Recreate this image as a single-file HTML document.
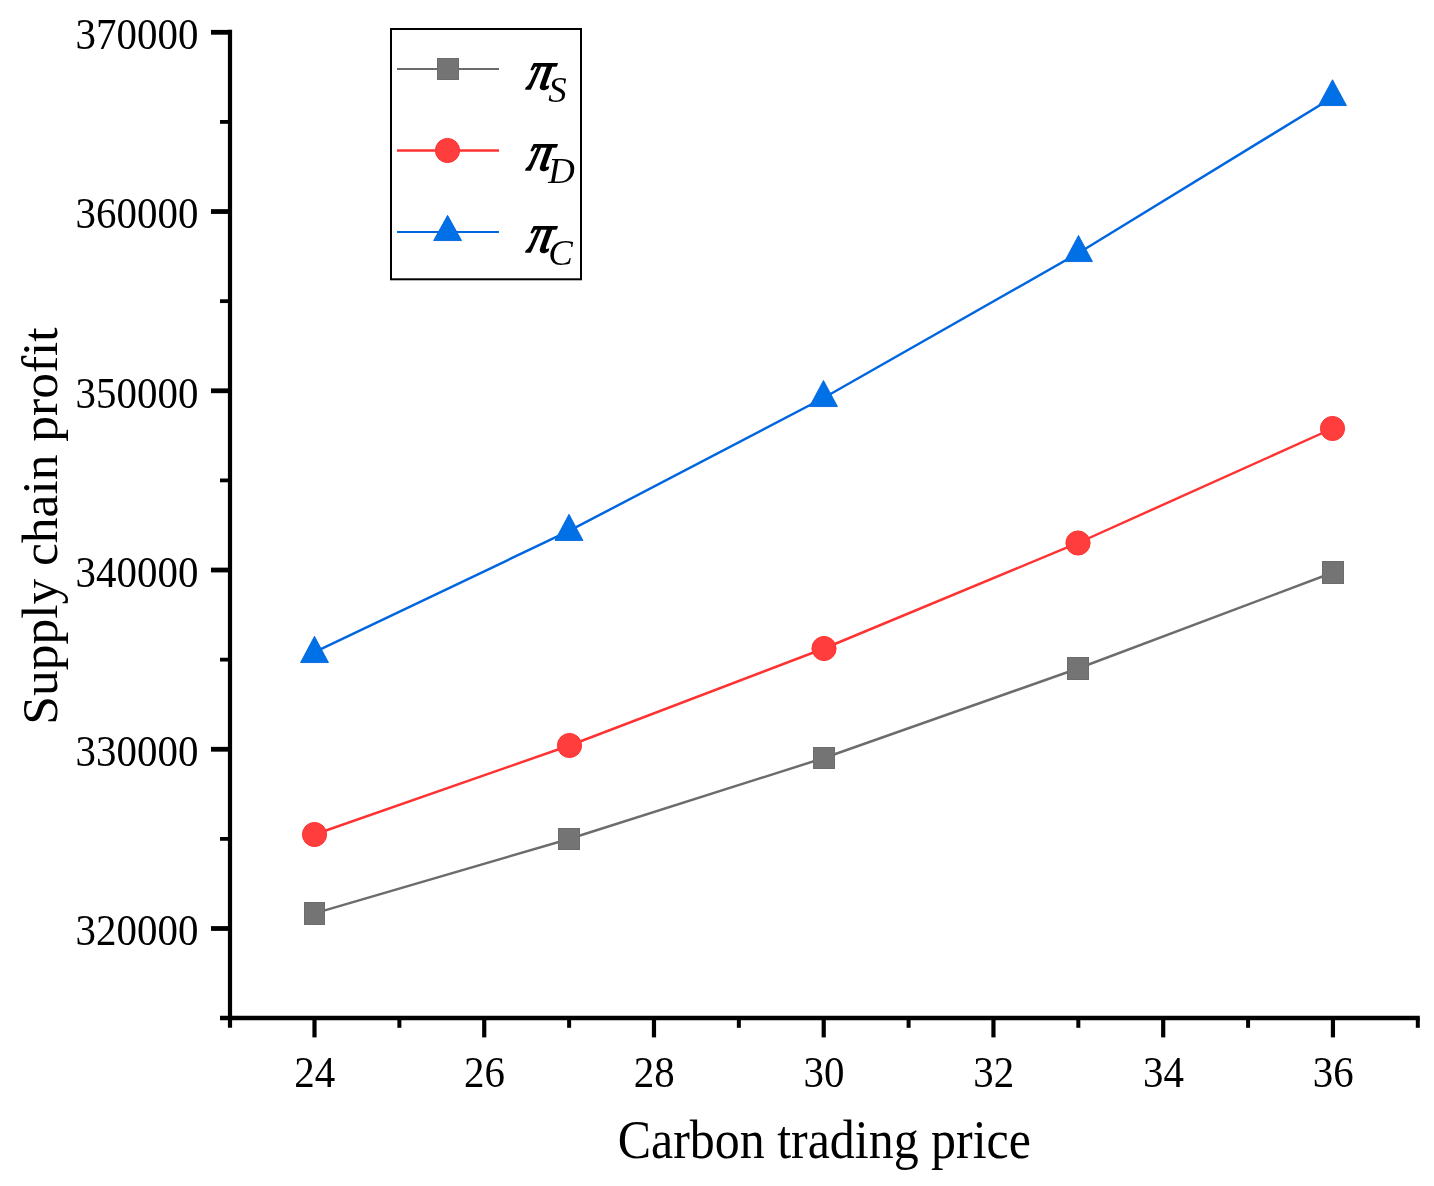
<!DOCTYPE html>
<html lang="en">
<head>
<meta charset="utf-8">
<title>Supply chain profit vs carbon trading price</title>
<style>
html,body{margin:0;padding:0;background:#fff;}
body{width:1434px;height:1186px;overflow:hidden;}
svg{display:block;}
text{font-family:"Liberation Serif","DejaVu Serif",serif;fill:#000;}
.tick{font-size:43.6px;}
.ttl{font-size:54px;}
.pi{font-size:55px;stroke:#000;stroke-width:1.6px;stroke-linejoin:round;}
.sub{font-size:36.8px;font-style:italic;}
</style>
</head>
<body>
<svg width="1434" height="1186" viewBox="0 0 1434 1186">
<rect width="1434" height="1186" fill="#fff"/>
<g stroke="#000" fill="none" stroke-linecap="butt">
<line x1="230.0" y1="29.8" x2="230.0" y2="1027.8" stroke-width="4.2"/>
<line x1="220" y1="1018.0" x2="1419.8" y2="1018.0" stroke-width="4.6"/>
<line x1="211" y1="928.50" x2="230.0" y2="928.50" stroke-width="4.8"/>
<line x1="211" y1="749.26" x2="230.0" y2="749.26" stroke-width="4.8"/>
<line x1="211" y1="570.02" x2="230.0" y2="570.02" stroke-width="4.8"/>
<line x1="211" y1="390.78" x2="230.0" y2="390.78" stroke-width="4.8"/>
<line x1="211" y1="211.54" x2="230.0" y2="211.54" stroke-width="4.8"/>
<line x1="211" y1="32.30" x2="230.0" y2="32.30" stroke-width="4.8"/>
<line x1="220" y1="838.88" x2="230.0" y2="838.88" stroke-width="3.8"/>
<line x1="220" y1="659.64" x2="230.0" y2="659.64" stroke-width="3.8"/>
<line x1="220" y1="480.40" x2="230.0" y2="480.40" stroke-width="3.8"/>
<line x1="220" y1="301.16" x2="230.0" y2="301.16" stroke-width="3.8"/>
<line x1="220" y1="121.92" x2="230.0" y2="121.92" stroke-width="3.8"/>
<line x1="314.50" y1="1018.0" x2="314.50" y2="1037.4" stroke-width="4.2"/>
<line x1="484.24" y1="1018.0" x2="484.24" y2="1037.4" stroke-width="4.2"/>
<line x1="653.98" y1="1018.0" x2="653.98" y2="1037.4" stroke-width="4.2"/>
<line x1="823.72" y1="1018.0" x2="823.72" y2="1037.4" stroke-width="4.2"/>
<line x1="993.46" y1="1018.0" x2="993.46" y2="1037.4" stroke-width="4.2"/>
<line x1="1163.20" y1="1018.0" x2="1163.20" y2="1037.4" stroke-width="4.2"/>
<line x1="1332.94" y1="1018.0" x2="1332.94" y2="1037.4" stroke-width="4.2"/>
<line x1="399.37" y1="1018.0" x2="399.37" y2="1027.8" stroke-width="4"/>
<line x1="569.11" y1="1018.0" x2="569.11" y2="1027.8" stroke-width="4"/>
<line x1="738.85" y1="1018.0" x2="738.85" y2="1027.8" stroke-width="4"/>
<line x1="908.59" y1="1018.0" x2="908.59" y2="1027.8" stroke-width="4"/>
<line x1="1078.33" y1="1018.0" x2="1078.33" y2="1027.8" stroke-width="4"/>
<line x1="1248.07" y1="1018.0" x2="1248.07" y2="1027.8" stroke-width="4"/>
<line x1="1417.81" y1="1018.0" x2="1417.81" y2="1027.8" stroke-width="4"/>
</g>
<text class="tick" text-anchor="end" transform="translate(198.4,945.30) scale(0.939,1)">320000</text>
<text class="tick" text-anchor="end" transform="translate(198.4,766.06) scale(0.939,1)">330000</text>
<text class="tick" text-anchor="end" transform="translate(198.4,586.82) scale(0.939,1)">340000</text>
<text class="tick" text-anchor="end" transform="translate(198.4,407.58) scale(0.939,1)">350000</text>
<text class="tick" text-anchor="end" transform="translate(198.4,228.34) scale(0.939,1)">360000</text>
<text class="tick" text-anchor="end" transform="translate(198.4,49.10) scale(0.939,1)">370000</text>
<text class="tick" text-anchor="middle" transform="translate(314.80,1087.2) scale(0.939,1)">24</text>
<text class="tick" text-anchor="middle" transform="translate(484.54,1087.2) scale(0.939,1)">26</text>
<text class="tick" text-anchor="middle" transform="translate(654.28,1087.2) scale(0.939,1)">28</text>
<text class="tick" text-anchor="middle" transform="translate(824.02,1087.2) scale(0.939,1)">30</text>
<text class="tick" text-anchor="middle" transform="translate(993.76,1087.2) scale(0.939,1)">32</text>
<text class="tick" text-anchor="middle" transform="translate(1163.50,1087.2) scale(0.939,1)">34</text>
<text class="tick" text-anchor="middle" transform="translate(1333.24,1087.2) scale(0.939,1)">36</text>
<text class="ttl" text-anchor="middle" transform="translate(824.3,1157.5) scale(0.925,1)">Carbon trading price</text>
<text class="ttl" text-anchor="middle" transform="translate(56.8,526.0) rotate(-90) scale(0.953,0.925)">Supply chain profit</text>
<polyline points="314.50,913.40 569.00,839.00 824.00,758.00 1078.00,668.50 1333.00,572.50" fill="none" stroke="#6c6c6c" stroke-width="2.45"/>
<polyline points="314.50,834.50 569.50,745.50 824.00,648.50 1078.00,543.00 1332.50,428.50" fill="none" stroke="#ff3232" stroke-width="2.45"/>
<polyline points="314.50,652.20 569.00,530.90 823.50,398.00 1078.50,253.00 1332.50,97.50" fill="none" stroke="#0066e0" stroke-width="2.45"/>
<rect x="304.5" y="902.5" width="20" height="22" fill="#747474" stroke="#6c6c6c" stroke-width="1"/>
<rect x="558.5" y="828.5" width="21" height="21" fill="#747474" stroke="#6c6c6c" stroke-width="1"/>
<rect x="813.5" y="747.5" width="21" height="21" fill="#747474" stroke="#6c6c6c" stroke-width="1"/>
<rect x="1067.5" y="657.5" width="21" height="22" fill="#747474" stroke="#6c6c6c" stroke-width="1"/>
<rect x="1322.5" y="561.5" width="21" height="22" fill="#747474" stroke="#6c6c6c" stroke-width="1"/>
<circle cx="314.50" cy="834.50" r="12.1" fill="#ff3d3d" stroke="#ff3232" stroke-width="1"/>
<circle cx="569.50" cy="745.50" r="12.1" fill="#ff3d3d" stroke="#ff3232" stroke-width="1"/>
<circle cx="824.00" cy="648.50" r="12.1" fill="#ff3d3d" stroke="#ff3232" stroke-width="1"/>
<circle cx="1078.00" cy="543.00" r="12.1" fill="#ff3d3d" stroke="#ff3232" stroke-width="1"/>
<circle cx="1332.50" cy="428.50" r="12.1" fill="#ff3d3d" stroke="#ff3232" stroke-width="1"/>
<polygon points="314.50,636.35 300.55,662.55 328.45,662.55" fill="#0070e6" stroke="#0066e0" stroke-width="0.9" stroke-linejoin="round"/>
<polygon points="569.00,514.25 555.05,540.45 582.95,540.45" fill="#0070e6" stroke="#0066e0" stroke-width="0.9" stroke-linejoin="round"/>
<polygon points="823.50,380.45 809.55,406.55 837.45,406.55" fill="#0070e6" stroke="#0066e0" stroke-width="0.9" stroke-linejoin="round"/>
<polygon points="1078.50,235.45 1064.55,261.55 1092.45,261.55" fill="#0070e6" stroke="#0066e0" stroke-width="0.9" stroke-linejoin="round"/>
<polygon points="1332.50,79.75 1318.55,105.55 1346.45,105.55" fill="#0070e6" stroke="#0066e0" stroke-width="0.9" stroke-linejoin="round"/>
<rect x="391" y="29" width="190" height="250.3" fill="#fff" stroke="#000" stroke-width="2"/>
<line x1="397" y1="69" x2="499" y2="69" stroke="#6c6c6c" stroke-width="2.2"/>
<line x1="397" y1="150.5" x2="499" y2="150.5" stroke="#ff3232" stroke-width="2.7"/>
<line x1="397" y1="232" x2="499" y2="232" stroke="#0066e0" stroke-width="2.2"/>
<rect x="437.5" y="58.5" width="21" height="21" fill="#747474" stroke="#6c6c6c" stroke-width="1"/>
<circle cx="447.50" cy="150.50" r="12.1" fill="#ff3d3d" stroke="#ff3232" stroke-width="1"/>
<polygon points="447.60,215.35 433.65,240.55 461.55,240.55" fill="#0070e6" stroke="#0066e0" stroke-width="0.9" stroke-linejoin="round"/>
<text class="pi" transform="translate(523.6,88.7) skewX(-20) scale(0.91,1)">π</text>
<text class="sub" transform="translate(548.2,102)">S</text>
<text class="pi" transform="translate(523.6,169.7) skewX(-20) scale(0.91,1)">π</text>
<text class="sub" transform="translate(548.2,183)">D</text>
<text class="pi" transform="translate(523.6,251.7) skewX(-20) scale(0.91,1)">π</text>
<text class="sub" transform="translate(548.2,265)">C</text>
</svg>
</body>
</html>
